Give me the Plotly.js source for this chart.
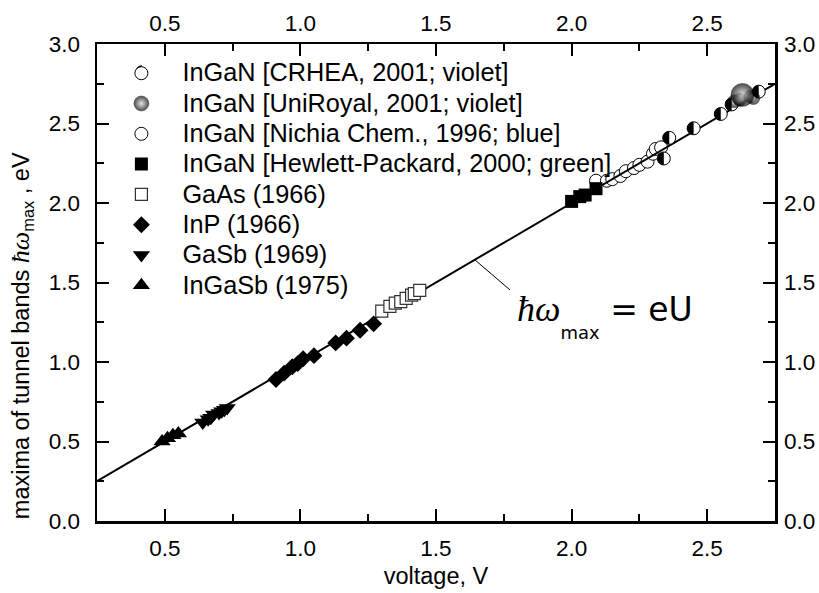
<!DOCTYPE html>
<html>
<head>
<meta charset="utf-8">
<script src="https://cdn.plot.ly/plotly-3.0.1.min.js"></script>
<style>html,body{margin:0;padding:0;background:#fff;}</style>
</head>
<body>
<div id="chart" style="width:819px;height:593px;"></div>
<script>
// Peak photon energy of tunnel emission bands vs. applied voltage

// InGaN, CRHEA 2001 (violet)
const crheaU = [2.34, 2.36, 2.45, 2.55, 2.59, 2.69];
const crheaE = [2.28, 2.41, 2.47, 2.56, 2.62, 2.70];
// InGaN, UniRoyal 2001 (violet)
const uniU = [2.60, 2.62, 2.66, 2.67, 2.63];
const uniE = [2.64, 2.65, 2.67, 2.66, 2.68];
const uniSize = [13, 13, 13, 13, 23];
// InGaN, Nichia Chem. 1996 (blue)
const nichiaU = [2.09, 2.13, 2.15, 2.18, 2.20, 2.23, 2.25, 2.28, 2.30, 2.31, 2.33];
const nichiaE = [2.14, 2.14, 2.15, 2.17, 2.20, 2.22, 2.24, 2.26, 2.31, 2.34, 2.35];
// InGaN, Hewlett-Packard 2000 (green)
const hpU = [2.00, 2.03, 2.05, 2.09];
const hpE = [2.01, 2.04, 2.05, 2.09];
// GaAs 1966
const gaasU = [1.30, 1.33, 1.35, 1.37, 1.39, 1.41, 1.42, 1.44];
const gaasE = [1.32, 1.35, 1.37, 1.38, 1.40, 1.42, 1.43, 1.45];
// InP 1966
const inpU = [0.91, 0.94, 0.97, 0.99, 1.01, 1.05, 1.13, 1.17, 1.22, 1.27];
const inpE = [0.89, 0.93, 0.97, 0.99, 1.02, 1.04, 1.12, 1.15, 1.20, 1.24];
// GaSb 1969
const gasbU = [0.64, 0.66, 0.67, 0.68, 0.70, 0.71, 0.72, 0.73];
const gasbE = [0.62, 0.64, 0.65, 0.67, 0.68, 0.69, 0.70, 0.71];
// InGaSb 1975
const ingasbU = [0.49, 0.51, 0.53, 0.55];
const ingasbE = [0.50, 0.52, 0.54, 0.55];

// hbar*omega_max = eU over the whole voltage axis
const fitU = [0.25, 2.75];
const fitE = fitU.map(u => u);

const xRange = [0.25, 2.75];
const yRange = [0, 3.0];

const FONT = 'Arial, "Liberation Sans", sans-serif';
const SERIF = "'Liberation Serif', 'DejaVu Serif', serif";
const LEG = s => '<span style="font-size:25.3px">' + s + '</span>';

const traces = [
  // open circles sit beneath the line
  {x: nichiaU, y: nichiaE, name: LEG('InGaN [Nichia Chem., 1996; blue]'), legendrank: 3,
   mode: 'markers', marker: {symbol: 'circle', size: 13, color: 'white', line: {color: 'black', width: 1}}},
  {x: fitU, y: fitE, mode: 'lines', line: {color: 'black', width: 2}, showlegend: false, hoverinfo: 'skip'},
  {x: crheaU, y: crheaE, name: LEG('InGaN [CRHEA, 2001; violet]'), legendrank: 1,
   mode: 'markers', marker: {symbol: 'circle', size: 13, color: 'white', line: {color: 'black', width: 1}}},
  {x: uniU, y: uniE, name: LEG('InGaN [UniRoyal, 2001; violet]'), legendrank: 2,
   mode: 'markers', marker: {symbol: 'circle', size: uniSize, color: 'black',
   gradient: {type: 'radial', color: '#d8d8d8'}, line: {color: 'black', width: 0.5}}},
  {x: hpU, y: hpE, name: LEG('InGaN [Hewlett-Packard, 2000; green]'), legendrank: 4,
   mode: 'markers', marker: {symbol: 'square', size: 13, color: 'black', line: {width: 0}}},
  {x: gaasU, y: gaasE, name: LEG('GaAs (1966)'), legendrank: 5,
   mode: 'markers', marker: {symbol: 'square', size: 12, color: 'white', line: {color: '#333', width: 1.2}}},
  {x: inpU, y: inpE, name: LEG('InP (1966)'), legendrank: 6,
   mode: 'markers', marker: {symbol: 'diamond', size: 13, color: 'black', line: {width: 0}}},
  {x: gasbU, y: gasbE, name: LEG('GaSb (1969)'), legendrank: 7,
   mode: 'markers', marker: {symbol: 'triangle-down', size: 15, color: 'black', line: {width: 0}}},
  {x: ingasbU, y: ingasbE, name: LEG('InGaSb (1975)'), legendrank: 8,
   mode: 'markers', marker: {symbol: 'triangle-up', size: 15, color: 'black', line: {width: 0}}},
  // carries the mirrored top/right axes
  {x: fitU, y: fitE, xaxis: 'x2', yaxis: 'y2', mode: 'lines', opacity: 0,
   line: {width: 0}, showlegend: false, hoverinfo: 'skip'}
];

// left half of a disc, drawn in pixels around an anchor point
function halfDisc(ax, ay, r, xref, yref) {
  const k = 0.5523 * r;
  return {
    type: 'path', xref: xref, yref: yref, xsizemode: 'pixel', ysizemode: 'pixel',
    xanchor: ax, yanchor: ay,
    path: `M0,${r} C${-k},${r} ${-r},${k} ${-r},0 C${-r},${-k} ${-k},${-r} 0,${-r} Z`,
    fillcolor: 'black', line: {width: 0}, layer: 'above'
  };
}

const shapes = crheaU.map((u, i) => halfDisc(u, crheaE[i], 6.5, 'x', 'y'));
// leader from the line to its label
const leaderU = [1.643, 1.773];
const leaderE = [1.643, 1.453];
shapes.push({type: 'line', xref: 'x', yref: 'y', x0: leaderU[0], y0: leaderE[0], x1: leaderU[1], y1: leaderE[1],
  line: {color: 'black', width: 1}});
// legend swatch for the CRHEA series
shapes.push(halfDisc(0.0664, 0.942, 6.5, 'paper', 'paper'));

const axisCommon = {
  showgrid: false, zeroline: false, ticks: 'inside', ticklen: 12, tickwidth: 2, tickcolor: 'black',
  showline: true, linewidth: 2.5, linecolor: 'black', tickformat: '.1f', dtick: 0.5,
  tickfont: {family: FONT, size: 22.5, color: 'black'},
  minor: {ticks: 'inside', ticklen: 7, tickwidth: 2, tickcolor: 'black', dtick: 0.25}
};

const layout = {
  width: 819, height: 593,
  margin: {l: 97, r: 44, t: 44, b: 72, pad: 0},
  paper_bgcolor: 'white', plot_bgcolor: 'white',
  font: {family: FONT, color: 'black'},
  showlegend: true,
  legend: {x: 0.005, y: 0.981, xanchor: 'left', yanchor: 'top', bgcolor: 'rgba(0,0,0,0)',
    borderwidth: 0, itemwidth: 72, itemsizing: 'trace', traceorder: 'normal',
    font: {family: FONT, size: 21, color: 'black'}},
  xaxis: Object.assign({}, axisCommon, {range: xRange, tick0: 0.5, mirror: true, ticklabelstandoff: 5,
    title: {text: 'voltage, V', font: {family: FONT, size: 23.5}, standoff: 8}}),
  yaxis: Object.assign({}, axisCommon, {range: yRange, tick0: 0, mirror: true, ticklabelstandoff: 10}),
  xaxis2: Object.assign({}, axisCommon, {range: xRange, tick0: 0.5, overlaying: 'x', side: 'top', anchor: 'y',
    ticklabelstandoff: 2}),
  yaxis2: Object.assign({}, axisCommon, {range: yRange, tick0: 0, overlaying: 'y', side: 'right', anchor: 'x',
    ticklabelstandoff: 2}),
  shapes: shapes,
  annotations: [
    {xref: 'paper', yref: 'paper', x: -0.111, y: 0.389, textangle: -90, showarrow: false,
     xanchor: 'center', yanchor: 'middle',
     font: {family: FONT, size: 23.5, color: 'black'},
     text: 'maxima of tunnel bands <span style="font-family:' + SERIF +
       ';font-style:italic;font-size:26px">ħω</span><sub>max</sub> , eV'},
    {xref: 'x', yref: 'y', x: 1.79, y: 1.29, showarrow: false, xanchor: 'left', yanchor: 'middle',
     font: {family: '"DejaVu Sans", sans-serif', size: 33, color: 'black'},
     text: '<span style="font-family:' + SERIF +
       ';font-style:italic;font-size:36px">ħω</span><sub><span style="font-size:18px;baseline-shift:-11px">max</span></sub> = eU'}
  ]
};

Plotly.newPlot('chart', traces, layout, {displayModeBar: false, staticPlot: true});
</script>
</body>
</html>
